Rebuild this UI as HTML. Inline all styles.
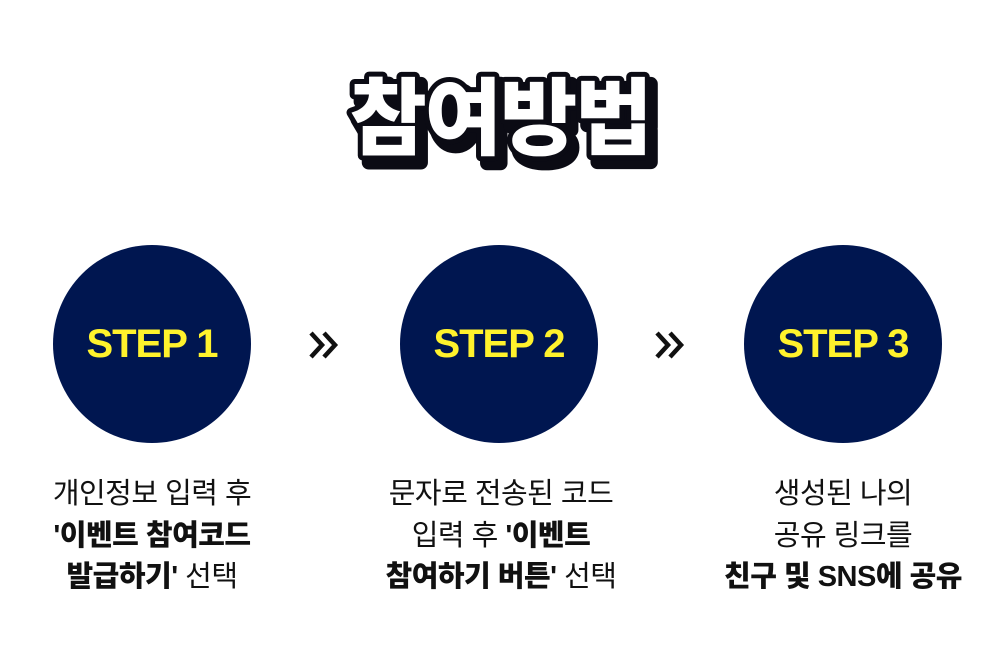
<!DOCTYPE html>
<html><head><meta charset="utf-8"><style>
body{margin:0;width:1000px;height:665px;background:#fff;position:relative;overflow:hidden;font-family:"Liberation Sans","Noto Sans CJK KR",sans-serif}
svg.title{position:absolute;left:0;top:0}
.c{position:absolute;width:198px;height:198px;border-radius:50%;background:#001650;top:245px;display:flex;align-items:center;justify-content:center;color:#fff22c;font-weight:900;font-size:40px;letter-spacing:-1px}
.arr{position:absolute}
.t{position:absolute;top:474px;width:320px;text-align:center;font-size:29px;line-height:41.5px;color:#111;letter-spacing:-0.5px}
b{font-weight:900}
</style></head><body>
<svg class="title" width="1000" height="200" style="font-family:'Noto Sans CJK KR',sans-serif;font-weight:900;font-size:84px">
<text x="506" y="155" text-anchor="middle" fill="#0b0b14" stroke="#0b0b14" stroke-width="14" stroke-linejoin="round" letter-spacing="-2">참여방법</text>
<text x="500" y="148" text-anchor="middle" fill="#fff" stroke="#0b0b14" stroke-width="10" stroke-linejoin="round" paint-order="stroke" letter-spacing="-2">참여방법</text>
</svg>
<div class="c" style="left:53px">STEP 1</div>
<div class="c" style="left:400px">STEP 2</div>
<div class="c" style="left:744px">STEP 3</div>
<svg class="arr" style="left:308px;top:331px" width="34" height="28"><path d="M3 2l11 12-11 12M16 2l11 12-11 12" fill="none" stroke="#111" stroke-width="4.5"/></svg>
<svg class="arr" style="left:654px;top:331px" width="34" height="28"><path d="M3 2l11 12-11 12M16 2l11 12-11 12" fill="none" stroke="#111" stroke-width="4.5"/></svg>
<div class="t" style="left:-8px">개인정보 입력 후<br><b>'이벤트 참여코드<br>발급하기'</b> 선택</div>
<div class="t" style="left:341px">문자로 전송된 코드<br>입력 후 <b>'이벤트<br>참여하기 버튼'</b> 선택</div>
<div class="t" style="left:683px">생성된 나의<br>공유 링크를<br><b>친구 및 SNS에 공유</b></div>
</body></html>
